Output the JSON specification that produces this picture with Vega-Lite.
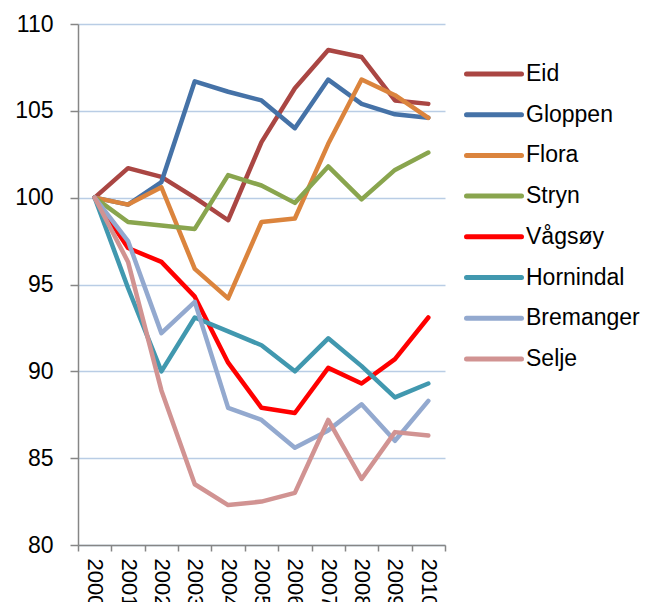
{
  "$schema": "https://vega.github.io/schema/vega-lite/v6.json",
  "width": 367,
  "height": 521,
  "autosize": {"type": "none"},
  "padding": {"left": 78, "top": 24, "right": 201, "bottom": 57},
  "config": {"view": {"stroke": null}, "font": "Liberation Sans"},
  "data": {
    "values": [
      {"kommune": "Eid", "year": 2000, "value": 100},
      {"kommune": "Eid", "year": 2001, "value": 101.7},
      {"kommune": "Eid", "year": 2002, "value": 101.2},
      {"kommune": "Eid", "year": 2003, "value": 100.0},
      {"kommune": "Eid", "year": 2004, "value": 98.7},
      {"kommune": "Eid", "year": 2005, "value": 103.2},
      {"kommune": "Eid", "year": 2006, "value": 106.3},
      {"kommune": "Eid", "year": 2007, "value": 108.5},
      {"kommune": "Eid", "year": 2008, "value": 108.1},
      {"kommune": "Eid", "year": 2009, "value": 105.6},
      {"kommune": "Eid", "year": 2010, "value": 105.4},
      {"kommune": "Gloppen", "year": 2000, "value": 100},
      {"kommune": "Gloppen", "year": 2001, "value": 99.6},
      {"kommune": "Gloppen", "year": 2002, "value": 100.9},
      {"kommune": "Gloppen", "year": 2003, "value": 106.7},
      {"kommune": "Gloppen", "year": 2004, "value": 106.1},
      {"kommune": "Gloppen", "year": 2005, "value": 105.6},
      {"kommune": "Gloppen", "year": 2006, "value": 104.0},
      {"kommune": "Gloppen", "year": 2007, "value": 106.8},
      {"kommune": "Gloppen", "year": 2008, "value": 105.4},
      {"kommune": "Gloppen", "year": 2009, "value": 104.8},
      {"kommune": "Gloppen", "year": 2010, "value": 104.6},
      {"kommune": "Flora", "year": 2000, "value": 100},
      {"kommune": "Flora", "year": 2001, "value": 99.6},
      {"kommune": "Flora", "year": 2002, "value": 100.6},
      {"kommune": "Flora", "year": 2003, "value": 95.9},
      {"kommune": "Flora", "year": 2004, "value": 94.2},
      {"kommune": "Flora", "year": 2005, "value": 98.6},
      {"kommune": "Flora", "year": 2006, "value": 98.8},
      {"kommune": "Flora", "year": 2007, "value": 103.1},
      {"kommune": "Flora", "year": 2008, "value": 106.8},
      {"kommune": "Flora", "year": 2009, "value": 105.9},
      {"kommune": "Flora", "year": 2010, "value": 104.6},
      {"kommune": "Stryn", "year": 2000, "value": 100},
      {"kommune": "Stryn", "year": 2001, "value": 98.6},
      {"kommune": "Stryn", "year": 2002, "value": 98.4},
      {"kommune": "Stryn", "year": 2003, "value": 98.2},
      {"kommune": "Stryn", "year": 2004, "value": 101.3},
      {"kommune": "Stryn", "year": 2005, "value": 100.7},
      {"kommune": "Stryn", "year": 2006, "value": 99.7},
      {"kommune": "Stryn", "year": 2007, "value": 101.8},
      {"kommune": "Stryn", "year": 2008, "value": 99.9},
      {"kommune": "Stryn", "year": 2009, "value": 101.6},
      {"kommune": "Stryn", "year": 2010, "value": 102.6},
      {"kommune": "Vågsøy", "year": 2000, "value": 100},
      {"kommune": "Vågsøy", "year": 2001, "value": 97.1},
      {"kommune": "Vågsøy", "year": 2002, "value": 96.3},
      {"kommune": "Vågsøy", "year": 2003, "value": 94.3},
      {"kommune": "Vågsøy", "year": 2004, "value": 90.5},
      {"kommune": "Vågsøy", "year": 2005, "value": 87.9},
      {"kommune": "Vågsøy", "year": 2006, "value": 87.6},
      {"kommune": "Vågsøy", "year": 2007, "value": 90.2},
      {"kommune": "Vågsøy", "year": 2008, "value": 89.3},
      {"kommune": "Vågsøy", "year": 2009, "value": 90.7},
      {"kommune": "Vågsøy", "year": 2010, "value": 93.1},
      {"kommune": "Hornindal", "year": 2000, "value": 100},
      {"kommune": "Hornindal", "year": 2001, "value": 94.8},
      {"kommune": "Hornindal", "year": 2002, "value": 90.0},
      {"kommune": "Hornindal", "year": 2003, "value": 93.1},
      {"kommune": "Hornindal", "year": 2004, "value": 92.3},
      {"kommune": "Hornindal", "year": 2005, "value": 91.5},
      {"kommune": "Hornindal", "year": 2006, "value": 90.0},
      {"kommune": "Hornindal", "year": 2007, "value": 91.9},
      {"kommune": "Hornindal", "year": 2008, "value": 90.3},
      {"kommune": "Hornindal", "year": 2009, "value": 88.5},
      {"kommune": "Hornindal", "year": 2010, "value": 89.3},
      {"kommune": "Bremanger", "year": 2000, "value": 100},
      {"kommune": "Bremanger", "year": 2001, "value": 97.5},
      {"kommune": "Bremanger", "year": 2002, "value": 92.2},
      {"kommune": "Bremanger", "year": 2003, "value": 94.0},
      {"kommune": "Bremanger", "year": 2004, "value": 87.9},
      {"kommune": "Bremanger", "year": 2005, "value": 87.2},
      {"kommune": "Bremanger", "year": 2006, "value": 85.6},
      {"kommune": "Bremanger", "year": 2007, "value": 86.6},
      {"kommune": "Bremanger", "year": 2008, "value": 88.1},
      {"kommune": "Bremanger", "year": 2009, "value": 86.0},
      {"kommune": "Bremanger", "year": 2010, "value": 88.3},
      {"kommune": "Selje", "year": 2000, "value": 100},
      {"kommune": "Selje", "year": 2001, "value": 96.3},
      {"kommune": "Selje", "year": 2002, "value": 88.9},
      {"kommune": "Selje", "year": 2003, "value": 83.5},
      {"kommune": "Selje", "year": 2004, "value": 82.3},
      {"kommune": "Selje", "year": 2005, "value": 82.5},
      {"kommune": "Selje", "year": 2006, "value": 83.0},
      {"kommune": "Selje", "year": 2007, "value": 87.2},
      {"kommune": "Selje", "year": 2008, "value": 83.8},
      {"kommune": "Selje", "year": 2009, "value": 86.5},
      {"kommune": "Selje", "year": 2010, "value": 86.3}
    ]
  },
  "mark": {"type": "line", "strokeWidth": 4.5, "strokeCap": "round", "strokeJoin": "round"},
  "encoding": {
    "x": {
      "field": "year",
      "type": "ordinal",
      "bandPosition": 0.5,
      "scale": {"type": "band", "paddingInner": 0, "paddingOuter": 0},
      "axis": {
        "title": null,
        "labelAngle": 90,
        "labelAlign": "left",
        "labelBaseline": "middle",
        "labelFontSize": 22,
        "labelColor": "#000000",
        "labelPadding": 7,
        "tickBand": "extent",
        "tickSize": 6,
        "tickWidth": 1.5,
        "tickColor": "#868686",
        "domainColor": "#868686",
        "domainWidth": 1.5,
        "grid": false
      }
    },
    "y": {
      "field": "value",
      "type": "quantitative",
      "scale": {"domain": [80, 110], "nice": false, "zero": false},
      "axis": {
        "title": null,
        "values": [80, 85, 90, 95, 100, 105, 110],
        "grid": true,
        "gridColor": "#b9cde5",
        "gridWidth": 1.5,
        "tickSize": 8,
        "tickWidth": 1.5,
        "tickColor": "#868686",
        "domainColor": "#868686",
        "domainWidth": 1.5,
        "labelFontSize": 23,
        "labelColor": "#000000",
        "labelPadding": 17
      }
    },
    "color": {
      "field": "kommune",
      "type": "nominal",
      "sort": null,
      "scale": {
        "domain": ["Eid", "Gloppen", "Flora", "Stryn", "Vågsøy", "Hornindal", "Bremanger", "Selje"],
        "range": ["#AA4643", "#4572A7", "#DB843D", "#89A54E", "#FF0000", "#4198AF", "#93A9CF", "#D19392"]
      },
      "legend": {
        "title": null,
        "orient": "none",
        "legendX": 386,
        "legendY": 32,
        "padding": 0,
        "symbolType": "stroke",
        "symbolSize": 3025,
        "symbolStrokeWidth": 5,
        "labelFontSize": 23,
        "labelColor": "#000000",
        "labelOffset": 2,
        "clipHeight": 36,
        "rowPadding": 4.7,
        "encode": {"symbols": {"update": {"strokeCap": {"value": "round"}}}}
      }
    }
  }
}
